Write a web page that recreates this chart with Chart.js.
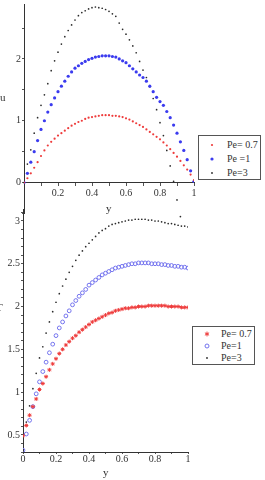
<!DOCTYPE html>
<html>
<head>
<meta charset="utf-8">
<script src="https://cdn.jsdelivr.net/npm/chart.js@4.4.1/dist/chart.umd.min.js"></script>
<style>
  html, body { margin: 0; padding: 0; background: #fff; }
  body { width: 265px; height: 480px; position: relative; overflow: hidden;
         font-family: "Liberation Serif", "DejaVu Serif", serif; color: #333; }
  canvas { position: absolute; left: 0; }
  #uChart { top: 0; }
  #tChart { top: 200px; }
  .title { position: absolute; font-size: 11px; line-height: 12px; }
  .legend { position: absolute; box-sizing: border-box; border: 1px solid #555; background: #fff; font-size: 10px; }
  .legend .row { position: absolute; left: 0; height: 12px; line-height: 12px; white-space: nowrap; }
  .legend svg { position: absolute; top: 0; }
  .legend span { position: absolute; }
</style>
</head>
<body>
<canvas id="uChart" width="265" height="222"></canvas>
<canvas id="tChart" width="265" height="280"></canvas>

<div class="title" style="left:0px;top:91px;">u</div>
<div class="title" style="left:106px;top:202px;">y</div>
<div class="title" style="left:-4px;top:301px;">T</div>
<div class="title" style="left:103px;top:466px;">y</div>

<div class="legend" id="uLegend" style="left:198px;top:135px;width:63px;height:45px;"></div>
<div class="legend" id="tLegend" style="left:192px;top:326px;width:63px;height:39px;"></div>

<script>
// y positions (shared by every series)
const Y_POS = [0, 0.02, 0.04, 0.06, 0.08, 0.10, 0.12, 0.14, 0.16, 0.18,
               0.20, 0.22, 0.24, 0.26, 0.28, 0.30, 0.32, 0.34, 0.36, 0.38,
               0.40, 0.42, 0.44, 0.46, 0.48, 0.50, 0.52, 0.54, 0.56, 0.58,
               0.60, 0.62, 0.64, 0.66, 0.68, 0.70, 0.72, 0.74, 0.76, 0.78,
               0.80, 0.82, 0.84, 0.86, 0.88, 0.90, 0.92, 0.94, 0.96, 0.98,
               1.00];

// velocity u
const U_PE07 = [0, 0.07, 0.15, 0.24, 0.33, 0.43, 0.52, 0.60, 0.66, 0.71,
                0.76, 0.80, 0.84, 0.88, 0.92, 0.95, 0.98, 1.00, 1.03, 1.05,
                1.06, 1.07, 1.08, 1.09, 1.09, 1.09, 1.08, 1.08, 1.07, 1.06,
                1.04, 1.02, 0.99, 0.96, 0.93, 0.90, 0.86, 0.82, 0.78, 0.74,
                0.70, 0.65, 0.60, 0.54, 0.48, 0.42, 0.35, 0.28, 0.21, 0.13,
                0.04];
const U_PE1 = [0, 0.15, 0.33, 0.50, 0.68, 0.86, 1.00, 1.14, 1.26, 1.37,
               1.47, 1.56, 1.64, 1.72, 1.79, 1.85, 1.89, 1.93, 1.96, 1.99,
               2.01, 2.03, 2.04, 2.05, 2.05, 2.05, 2.04, 2.03, 2.00, 1.97,
               1.94, 1.89, 1.84, 1.79, 1.74, 1.70, 1.64, 1.56, 1.47, 1.38,
               1.31, 1.25, 1.15, 1.05, 0.93, 0.80, 0.66, 0.52, 0.37, 0.19,
               0.02];
const U_PE3 = [0, 0.30, 0.53, 0.80, 1.05, 1.25, 1.42, 1.60, 1.81, 1.97,
               2.11, 2.24, 2.36, 2.46, 2.55, 2.63, 2.70, 2.75, 2.78, 2.81,
               2.83, 2.84, 2.83, 2.82, 2.80, 2.77, 2.73, 2.69, 2.58, 2.48,
               2.40, 2.31, 2.21, 2.10, 1.96, 1.82, 1.70, 1.55, 1.36, 1.18,
               0.97, 0.76, 0.52, 0.27, 0.02, -0.28, -0.55, null, null, null,
               null];

// temperature T
const T_PE07 = [0.49, 0.61, 0.73, 0.83, 0.92, 1.03, 1.10, 1.18, 1.26, 1.33,
                1.39, 1.45, 1.50, 1.55, 1.59, 1.63, 1.66, 1.70, 1.73, 1.76,
                1.79, 1.82, 1.84, 1.86, 1.88, 1.90, 1.92, 1.93, 1.95, 1.96,
                1.97, 1.98, 1.98, 1.99, 1.99, 2.00, 2.00, 2.00, 2.01, 2.01,
                2.01, 2.01, 2.01, 2.01, 2.00, 2.00, 2.00, 2.00, 1.99, 1.99,
                1.99];
const T_PE1 = [0.32, 0.51, 0.67, 0.83, 0.98, 1.12, 1.24, 1.35, 1.46, 1.56,
               1.66, 1.75, 1.82, 1.89, 1.95, 2.02, 2.07, 2.12, 2.16, 2.20,
               2.25, 2.28, 2.31, 2.34, 2.37, 2.39, 2.41, 2.43, 2.45, 2.46,
               2.47, 2.48, 2.49, 2.50, 2.50, 2.51, 2.51, 2.51, 2.51, 2.50,
               2.50, 2.50, 2.49, 2.49, 2.48, 2.48, 2.47, 2.47, 2.46, 2.46,
               2.45];
const T_PE3 = [null, 0.65, 0.84, 1.04, 1.22, 1.40, 1.53, 1.69, 1.82, 1.94,
               2.05, 2.15, 2.24, 2.32, 2.40, 2.47, 2.54, 2.60, 2.65, 2.70,
               2.74, 2.78, 2.82, 2.86, 2.89, 2.91, 2.94, 2.96, 2.97, 2.98,
               2.99, 3.00, 3.01, 3.01, 3.02, 3.02, 3.02, 3.02, 3.01, 3.01,
               3.00, 3.00, 2.99, 2.98, 2.97, 2.97, 2.96, 2.95, 2.94, 2.94,
               2.93];

const U_LEGEND = ['Pe= 0.7', 'Pe =1', 'Pe=3'];
const T_LEGEND = ['Pe= 0.7', 'Pe=1', 'Pe=3'];

const X_LABELS_TOP = ['0.2', '0.4', '0.6', '0.8', '1'];
const X_LABELS_BOTTOM = ['0', '0.2', '0.4', '0.6', '0.8', '1'];
const U_LABELS = ['0', '1', '2'];
const T_LABELS = ['0.5', '1', '1.5', '2', '2.5', '3'];

const RED = '#ee3b3b', BLUE = '#3b3bef', BLUE_RING = '#7373ee', BLACK = '#2a2a2a';

Chart.defaults.font.family = '"Liberation Serif", "DejaVu Serif", serif';
Chart.defaults.color = '#333';

const pts = (ys) => Y_POS.map((x, i) => ({ x, y: ys[i] })).filter(p => p.y !== null);

// minor ticks every `step`, labels only where the list has one;
// the axis box gets a fixed size so the plot area is set by layout padding
function tickAxis(min, max, step, labels, o) {
  return {
    type: 'linear', min, max, position: o.position,
    afterBuildTicks: s => {
      const t = [];
      for (let v = Math.ceil(min / step - 1e-6) * step; v <= max + 1e-9; v += step) t.push({ value: +v.toFixed(3) });
      s.ticks = t;
    },
    afterFit: s => {
      if (s.isHorizontal()) s.height = o.size; else s.width = o.size;
      s.paddingTop = s.paddingBottom = s.paddingLeft = s.paddingRight = 0;
    },
    ticks: {
      autoSkip: false, maxRotation: 0, padding: o.pad,
      font: { size: 10, lineHeight: 1 },
      callback: v => labels.find(l => Math.abs(Number(l) - v) < 1e-6) || ''
    },
    grid: { drawOnChartArea: false, tickLength: o.tick, color: '#555' },
    border: { color: '#333', width: 1 }
  };
}

const baseOpts = (padding, scales) => ({
  responsive: false, animation: false, events: [],
  layout: { padding },
  plugins: { legend: { display: false }, tooltip: { enabled: false } },
  scales
});

new Chart(document.getElementById('uChart'), {
  type: 'scatter',
  data: { datasets: [
    { label: U_LEGEND[0], data: pts(U_PE07), backgroundColor: RED, borderWidth: 0, pointRadius: 1.1 },
    { label: U_LEGEND[1], data: pts(U_PE1), backgroundColor: BLUE, borderWidth: 0, pointRadius: 1.6 },
    { label: U_LEGEND[2], data: pts(U_PE3), backgroundColor: BLACK, borderWidth: 0, pointRadius: 0.85, clip: 10 }
  ]},
  options: baseOpts({ left: 2, right: 71, top: 0, bottom: 8.5 }, {
    x: tickAxis(0, 1, 0.1, X_LABELS_TOP, { position: { y: 0 }, size: 0, tick: 3, pad: 3 }),
    y: tickAxis(-0.5, 182 / 63, 0.5, U_LABELS, { position: 'left', size: 22, tick: 2, pad: 1 })
  })
});

new Chart(document.getElementById('tChart'), {
  type: 'scatter',
  data: { datasets: [
    { label: T_LEGEND[0], data: pts(T_PE07), pointStyle: 'star', borderColor: RED, backgroundColor: RED, borderWidth: 1, pointRadius: 2 },
    { label: T_LEGEND[1], data: pts(T_PE1), pointStyle: 'circle', borderColor: BLUE_RING, backgroundColor: 'rgba(0,0,0,0)', borderWidth: 1, pointRadius: 1.9 },
    { label: T_LEGEND[2], data: pts(T_PE3), backgroundColor: BLACK, borderWidth: 0, pointRadius: 0.85 }
  ]},
  options: baseOpts({ left: 2, right: 77, top: 9, bottom: 8 }, {
    x: tickAxis(0, 1, 0.1, X_LABELS_BOTTOM, { position: 'bottom', size: 20, tick: 2, pad: 0 }),
    y: tickAxis(0.3, 3.14, 0.1, T_LABELS, { position: 'left', size: 21, tick: 2, pad: 1 })
  })
});

// legends
const MARKERS = {
  dot: (c, r) => `<circle cx="6" cy="6" r="${r}" fill="${c}"/>`,
  ring: (c) => `<circle cx="6" cy="6" r="2" fill="none" stroke="${c}" stroke-width="1"/>`,
  star: (c) => `<path d="M6 3.6V8.4M3.9 4.8L8.1 7.2M3.9 7.2L8.1 4.8" stroke="${c}" stroke-width="1"/>`
};
function makeLegend(id, labels, marks, firstRow, gap, markX, textX) {
  const el = document.getElementById(id);
  labels.forEach((lab, i) => {
    const row = document.createElement('div');
    row.className = 'row';
    row.style.top = (firstRow + i * gap - 6) + 'px';
    row.innerHTML = `<svg width="12" height="12" style="left:${markX - 6}px">${marks[i]}</svg>` +
                    `<span style="left:${textX}px">${lab}</span>`;
    el.appendChild(row);
  });
}
makeLegend('uLegend', U_LEGEND, [MARKERS.dot(RED, 1.1), MARKERS.dot(BLUE, 1.6), MARKERS.dot(BLACK, 0.9)], 8.5, 14.3, 13, 28);
makeLegend('tLegend', T_LEGEND, [MARKERS.star(RED), MARKERS.ring(BLUE_RING), MARKERS.dot(BLACK, 0.9)], 6.8, 12, 14, 28);
</script>
</body>
</html>
